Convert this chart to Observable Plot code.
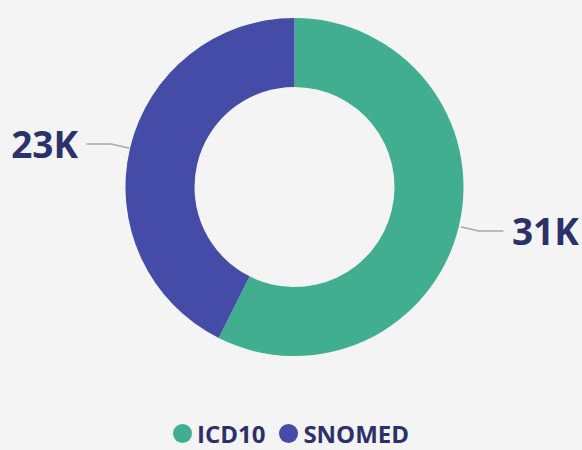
<!DOCTYPE html>
<html>
<head>
<meta charset="utf-8">
<script src="https://cdn.jsdelivr.net/npm/d3@7"></script>
<script src="https://cdn.jsdelivr.net/npm/@observablehq/plot@0.6"></script>
<style>
  html, body { margin: 0; padding: 0; background: #F4F4F4; }
  body { width: 582px; font-family: "Open Sans", sans-serif; }
  #chart svg { display: block; }
  #legend { display: flex; justify-content: center; align-items: center; height: 27px; line-height: 27px; font-weight: 700; font-size: 24px; color: #2C306B; }
  .item { display: flex; align-items: center; margin: 0 7px; height: 27px; }
  .sw { width: 19px; height: 19px; border-radius: 50%; margin-right: 5px; }
</style>
</head>
<body>
<div id="chart"></div>
<div id="legend"></div>
<script>
const categories = ["ICD10", "SNOMED"];
const values = [31000, 23000];
const valueLabels = ["31K", "23K"];
const colors = ["#40AE8F", "#444CA7"];

const W = 582, H = 420;
const cx = 294.5, cy = 187, rOuter = 169, rInner = 100;

const data = categories.map((c, i) => ({category: c, value: values[i], label: valueLabels[i]}));
const arcs = d3.pie().sort(null).value(d => d.value)(data);

// leader lines and labels derived from the slice mid-angles
const leaders = [];
const labels = [];
arcs.forEach((a, i) => {
  const mid = (a.startAngle + a.endAngle) / 2;
  const sx = Math.sin(mid), sy = -Math.cos(mid);
  const side = sx >= 0 ? 1 : -1;
  const p0 = [cx + (rOuter + 2) * sx, cy + (rOuter + 2) * sy];
  const p1 = [cx + (rOuter + 20) * sx, cy + (rOuter + 20) * sy];
  const p2 = [p1[0] + side * 24, p1[1]];
  leaders.push({x: p0[0], y: p0[1], k: i}, {x: p1[0], y: p1[1], k: i}, {x: p2[0], y: p2[1], k: i});
  labels.push({x: p2[0] + side * 9, y: p2[1] + 2.5, text: a.data.label, side});
});

function donut(index, scales) {
  const g = d3.create("svg:g");
  const arc = d3.arc().innerRadius(rInner).outerRadius(rOuter);
  g.attr("transform", `translate(${scales.x(cx)},${scales.y(cy)})`);
  g.selectAll("path").data(arcs).join("path")
    .attr("d", arc)
    .attr("fill", (d, i) => colors[i]);
  return g.node();
}

const textOpts = {x: "x", y: "y", text: "text", fontSize: 37, fontWeight: 700, fill: "#2C306B", fontFamily: "Open Sans", lineAnchor: "middle"};

const plot = Plot.plot({
  width: W,
  height: H,
  margin: 0,
  style: {background: "#F4F4F4"},
  x: {domain: [0, W], range: [0, W], axis: null},
  y: {domain: [0, H], range: [0, H], axis: null},
  marks: [
    donut,
    Plot.line(leaders, {x: "x", y: "y", z: "k", stroke: "#A8A8A8", strokeWidth: 1.5}),
    Plot.text(labels.filter(d => d.side > 0), {...textOpts, textAnchor: "start"}),
    Plot.text(labels.filter(d => d.side < 0), {...textOpts, textAnchor: "end"})
  ]
});
document.getElementById("chart").appendChild(plot);

const legend = document.getElementById("legend");
categories.forEach((c, i) => {
  const item = document.createElement("div");
  item.className = "item";
  const sw = document.createElement("div");
  sw.className = "sw";
  sw.style.background = colors[i];
  const t = document.createElement("span");
  t.textContent = c;
  item.appendChild(sw);
  item.appendChild(t);
  legend.appendChild(item);
});
</script>
</body>
</html>
